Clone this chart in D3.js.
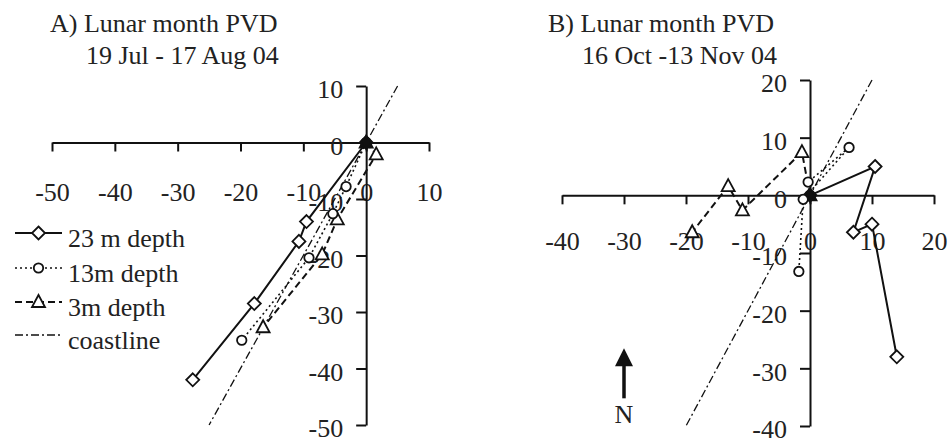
<!DOCTYPE html>
<html>
<head>
<meta charset="utf-8">
<script src="https://cdn.jsdelivr.net/npm/d3@7"></script>
<style>
  body { margin: 0; background: #fff; }
  svg { display: block; }
  text { font-family: 'Liberation Serif', 'DejaVu Serif', serif; fill: #222; }
</style>
</head>
<body>
<div id="chart"></div>
<script>
// progressive vector diagram points (km), east = x, north = y
var seriesNames = ['23 m depth', '13m depth', '3m depth', 'coastline'];

var a23 = [[0, 0], [-9.5, -14], [-10.7, -17.5], [-17.8, -28.5], [-27.6, -42]];
var a13 = [[0, 0], [-3.2, -7.8], [-5.3, -12.6], [-9.1, -20.4], [-19.8, -35]];
var a3 = [[0, 0], [1.6, -2.1], [-4.6, -13.6], [-7, -19.8], [-16.4, -32.7]];
var aCoast = [[5, 10], [-25, -50]];

var b23 = [[0, 0], [10.5, 5], [7, -6.4], [10, -5], [14, -28]];
var b13 = [[0, 0], [-0.3, 2.3], [6.3, 8.3], [-1.1, -0.7], [-1.8, -13.2]];
var b3 = [[0, 0], [-1.3, 7.5], [-10.9, -2.6], [-13.2, 1.6], [-19, -6.4]];
var bCoast = [[10, 20], [-20, -40]];

var aTicksX = [-50, -40, -30, -20, -10, 0, 10];
var aTicksY = [-50, -40, -30, -20, -10, 0, 10];
var bTicksX = [-40, -30, -20, -10, 0, 10, 20];
var bTicksY = [-40, -30, -20, -10, 0, 10, 20];

var titlesA = ['A) Lunar month PVD', '19 Jul - 17 Aug 04'];
var titlesB = ['B) Lunar month PVD', '16 Oct -13 Nov 04'];

var w = 948;
var h = 440;
var fontSize = 26;
var fontFamily = "'Liberation Serif', 'DejaVu Serif', serif";

var svg = d3.select('#chart')
  .append('svg')
  .attr('width', w)
  .attr('height', h);

// line styles per series
var styles = [
  {dash: null, width: 2, marker: 'diamond'},
  {dash: '2,3', width: 1.6, marker: 'circle'},
  {dash: '7,4', width: 2, marker: 'triangle'},
  {dash: '8,3,2,3', width: 1.3, marker: null}
];

function markerPath(type) {
  if (type == 'diamond') return 'M0,-6.5L6.5,0L0,6.5L-6.5,0Z';
  if (type == 'triangle') return 'M0,-7L6.5,5L-6.5,5Z';
  return d3.symbol().type(d3.symbolCircle).size(70)();
}

// plain hyphen for negatives, like the original
var fmt = function(d) { return String(d); };

function drawPanel(opt) {
  var x = d3.scaleLinear().domain(opt.xDomain).range(opt.xRange);
  var y = d3.scaleLinear().domain(opt.yDomain).range(opt.yRange);
  var g = svg.append('g');

  // axes crossing at 0
  var xAxis = g.append('g')
    .attr('transform', 'translate(0,' + y(0) + ')')
    .call(d3.axisBottom(x).tickValues(opt.ticksX).tickFormat(fmt)
      .tickSize(9).tickSizeOuter(0).tickPadding(opt.xPad));
  var yAxis = g.append('g')
    .attr('transform', 'translate(' + x(0) + ',0)')
    .call(d3.axisLeft(y).tickValues(opt.ticksY).tickFormat(fmt)
      .tickSize(10).tickSizeOuter(0).tickPadding(13));
  [xAxis, yAxis].forEach(function(ax) {
    ax.attr('font-family', fontFamily).attr('font-size', fontSize);
    ax.select('.domain').attr('stroke', '#111').attr('stroke-width', 2);
    ax.selectAll('.tick line').attr('stroke', '#111').attr('stroke-width', 2);
    ax.selectAll('.tick text').attr('fill', '#222');
  });
  yAxis.selectAll('.tick text').attr('dy', '0.46em');

  var line = d3.line().x(function(d) { return x(d[0]); }).y(function(d) { return y(d[1]); });

  // coastline first, then series
  var order = [3, 0, 1, 2];
  order.forEach(function(i) {
    var s = styles[i];
    g.append('path')
      .datum(opt.data[i])
      .attr('d', line)
      .attr('fill', 'none')
      .attr('stroke', '#111')
      .attr('stroke-width', s.width)
      .attr('stroke-dasharray', s.dash);
  });
  [0, 2, 1].forEach(function(i) {
    var s = styles[i];
    g.selectAll('.m' + i)
      .data(opt.data[i])
      .enter()
      .append('path')
      .attr('transform', function(d) { return 'translate(' + x(d[0]) + ',' + y(d[1]) + ')'; })
      .attr('d', markerPath(s.marker))
      .attr('fill', function(d, j) { return j == 0 ? '#111' : '#fff'; })
      .attr('stroke', '#111')
      .attr('stroke-width', 1.8);
  });

  // titles
  opt.titles.forEach(function(t, i) {
    svg.append('text')
      .attr('x', opt.titleX[i])
      .attr('y', opt.titleY[i])
      .attr('font-family', fontFamily)
      .attr('font-size', fontSize)
      .text(t);
  });
  return {x: x, y: y};
}

drawPanel({
  xDomain: [-50, 10], xRange: [52, 429],
  yDomain: [-50, 10], yRange: [425, 86],
  ticksX: aTicksX, ticksY: aTicksY, xPad: 31,
  data: [a23, a13, a3, aCoast],
  titles: titlesA, titleX: [50, 86], titleY: [32, 64]
});

var pb = drawPanel({
  xDomain: [-40, 20], xRange: [562, 934],
  yDomain: [-40, 20], yRange: [426, 80],
  ticksX: bTicksX, ticksY: bTicksY, xPad: 27,
  data: [b23, b13, b3, bCoast],
  titles: titlesB, titleX: [548, 582], titleY: [32, 64]
});

// legend (panel A)
var legend = svg.append('g').attr('transform', 'translate(15,233)');
var rowY = [0, 35, 69, 102];
seriesNames.forEach(function(name, i) {
  var s = styles[i];
  var row = legend.append('g').attr('transform', 'translate(0,' + rowY[i] + ')');
  row.append('line')
    .attr('x1', 0).attr('x2', 47)
    .attr('stroke', '#111')
    .attr('stroke-width', s.width)
    .attr('stroke-dasharray', s.dash);
  if (s.marker) {
    row.append('path')
      .attr('transform', 'translate(23.5,0)')
      .attr('d', markerPath(s.marker))
      .attr('fill', '#fff')
      .attr('stroke', '#111')
      .attr('stroke-width', 1.8);
  }
  row.append('text')
    .attr('x', 53)
    .attr('y', 14)
    .attr('font-family', fontFamily)
    .attr('font-size', fontSize)
    .text(name);
});

// north arrow (panel B)
var ax = pb.x(-30);
svg.append('line')
  .attr('x1', ax).attr('x2', ax)
  .attr('y1', pb.y(-29)).attr('y2', pb.y(-35.2))
  .attr('stroke', '#111').attr('stroke-width', 3.5);
svg.append('path')
  .attr('d', 'M' + ax + ',' + pb.y(-26.5) + 'l9,18h-18z')
  .attr('fill', '#111');
svg.append('text')
  .attr('x', ax)
  .attr('y', pb.y(-39.4))
  .attr('text-anchor', 'middle')
  .attr('font-family', fontFamily)
  .attr('font-size', fontSize)
  .text('N');
</script>
</body>
</html>
